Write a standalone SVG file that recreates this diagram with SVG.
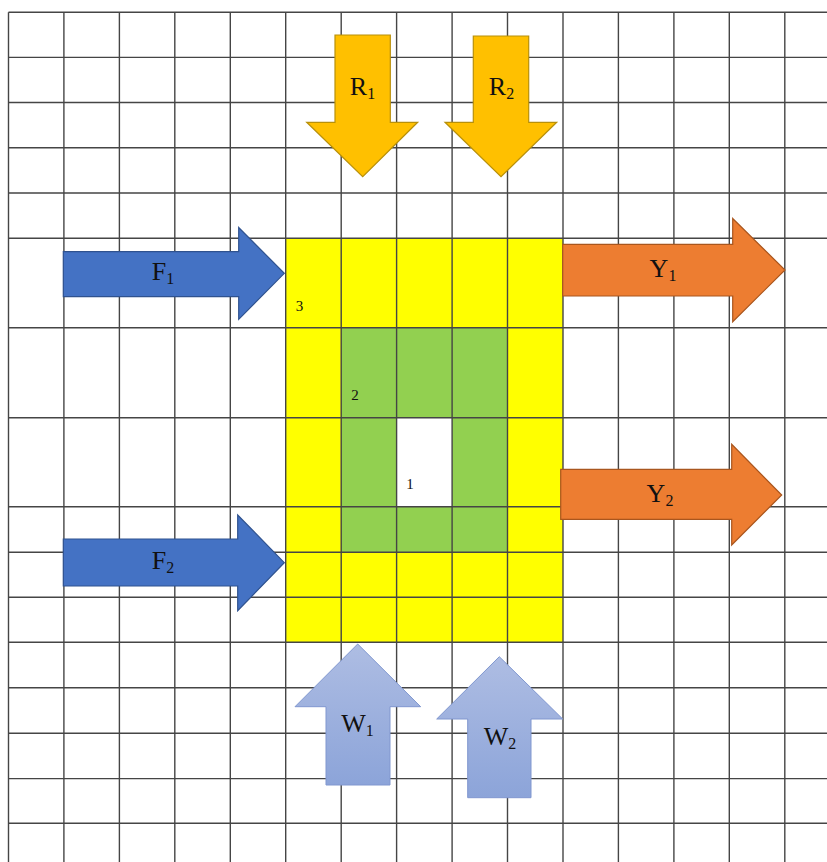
<svg xmlns="http://www.w3.org/2000/svg" width="827" height="862" viewBox="0 0 827 862">
<defs>
<linearGradient id="wgrad" x1="0" y1="0" x2="0" y2="1">
<stop offset="0" stop-color="#AEBDE3"/>
<stop offset="1" stop-color="#8CA4D9"/>
</linearGradient>
<style>
.grid line{stroke:#454545;stroke-width:1.4}
.lbl{font-family:"Liberation Serif","Times New Roman",serif;font-size:26px;fill:#111;text-anchor:middle}
.sub{font-size:16px}
.num{font-family:"Liberation Serif","Times New Roman",serif;font-size:15px;fill:#111;text-anchor:middle}
.r{fill:#FFC000;stroke:#B8900A;stroke-width:1.2}
.f{fill:#4472C4;stroke:#2F528F;stroke-width:1.2}
.y{fill:#ED7D31;stroke:#A9561E;stroke-width:1.2}
.w{fill:url(#wgrad);stroke:#8097CF;stroke-width:1}
</style>
</defs>
<rect width="827" height="862" fill="#ffffff"/>
<g id="zones">
<rect id="zone3" x="285.7" y="238.3" width="277.3" height="404" fill="#FFFF00"/>
<rect id="zone2" x="341.2" y="327.7" width="166.3" height="224.6" fill="#92D050"/>
<rect id="zone1" x="396.6" y="417.7" width="55.5" height="89" fill="#FFFFFF"/>
</g>
<g class="grid" id="grid">
<line x1="8.5" y1="12.3" x2="8.5" y2="862"/>
<line x1="63.9" y1="12.3" x2="63.9" y2="862"/>
<line x1="119.4" y1="12.3" x2="119.4" y2="862"/>
<line x1="174.8" y1="12.3" x2="174.8" y2="862"/>
<line x1="230.3" y1="12.3" x2="230.3" y2="862"/>
<line x1="285.7" y1="12.3" x2="285.7" y2="862"/>
<line x1="341.2" y1="12.3" x2="341.2" y2="862"/>
<line x1="396.6" y1="12.3" x2="396.6" y2="862"/>
<line x1="452.1" y1="12.3" x2="452.1" y2="862"/>
<line x1="507.5" y1="12.3" x2="507.5" y2="862"/>
<line x1="563" y1="12.3" x2="563" y2="862"/>
<line x1="618.4" y1="12.3" x2="618.4" y2="862"/>
<line x1="673.9" y1="12.3" x2="673.9" y2="862"/>
<line x1="729.3" y1="12.3" x2="729.3" y2="862"/>
<line x1="784.8" y1="12.3" x2="784.8" y2="862"/>
<line x1="8.5" y1="12.3" x2="827" y2="12.3"/>
<line x1="8.5" y1="57.4" x2="827" y2="57.4"/>
<line x1="8.5" y1="102.5" x2="827" y2="102.5"/>
<line x1="8.5" y1="147.7" x2="827" y2="147.7"/>
<line x1="8.5" y1="193" x2="827" y2="193"/>
<line x1="8.5" y1="238.3" x2="827" y2="238.3"/>
<line x1="8.5" y1="327.7" x2="827" y2="327.7"/>
<line x1="8.5" y1="417.7" x2="827" y2="417.7"/>
<line x1="8.5" y1="506.7" x2="827" y2="506.7"/>
<line x1="8.5" y1="552.3" x2="827" y2="552.3"/>
<line x1="8.5" y1="597.3" x2="827" y2="597.3"/>
<line x1="8.5" y1="642.3" x2="827" y2="642.3"/>
<line x1="8.5" y1="687.7" x2="827" y2="687.7"/>
<line x1="8.5" y1="733.2" x2="827" y2="733.2"/>
<line x1="8.5" y1="778.6" x2="827" y2="778.6"/>
<line x1="8.5" y1="823.3" x2="827" y2="823.3"/>
</g>
<g id="zone-labels">
<text class="num" x="299.5" y="311">3</text>
<text class="num" x="355" y="400">2</text>
<text class="num" x="410" y="489">1</text>
</g>
<g id="arrows">
<g id="R1">
<polygon class="r" points="335,35 390.3,35 390.3,122.3 417.7,122.3 362.7,176.7 306.7,122.3 335,122.3"/>
<text class="lbl" x="362.5" y="95">R<tspan class="sub" dy="4">1</tspan></text>
</g>
<g id="R2">
<polygon class="r" points="473.3,36 528.7,36 528.7,122.3 556.7,122.3 501,176.7 445,122.3 473.3,122.3"/>
<text class="lbl" x="501.5" y="95">R<tspan class="sub" dy="4">2</tspan></text>
</g>
<g id="F1">
<polygon class="f" points="63.3,251.7 238.7,251.7 238.7,227.5 284.3,273.3 238.7,319.3 238.7,296.7 63.3,296.7"/>
<text class="lbl" x="163" y="280">F<tspan class="sub" dy="4">1</tspan></text>
</g>
<g id="F2">
<polygon class="f" points="63.3,539 237.7,539 237.7,515 284.3,562.7 237.7,610.7 237.7,586 63.3,586"/>
<text class="lbl" x="163" y="569">F<tspan class="sub" dy="4">2</tspan></text>
</g>
<g id="Y1">
<polygon class="y" points="562.7,244.3 732.7,244.3 732.7,218.5 785,270 732.7,321.7 732.7,296 562.7,296"/>
<text class="lbl" x="663" y="277">Y<tspan class="sub" dy="4">1</tspan></text>
</g>
<g id="Y2">
<polygon class="y" points="560.7,469.3 731.7,469.3 731.7,444.3 781.7,495 731.7,545 731.7,519.3 560.7,519.3"/>
<text class="lbl" x="660" y="502">Y<tspan class="sub" dy="4">2</tspan></text>
</g>
<g id="W1">
<polygon class="w" points="357.7,644 420.7,706.7 390,706.7 390,785 326,785 326,706.7 295,706.7"/>
<text class="lbl" x="357.5" y="732">W<tspan class="sub" dy="4">1</tspan></text>
</g>
<g id="W2">
<polygon class="w" points="499.3,656.7 562.7,719 531,719 531,797.7 467.7,797.7 467.7,719 436.7,719"/>
<text class="lbl" x="500" y="745">W<tspan class="sub" dy="4">2</tspan></text>
</g>
</g>
</svg>
